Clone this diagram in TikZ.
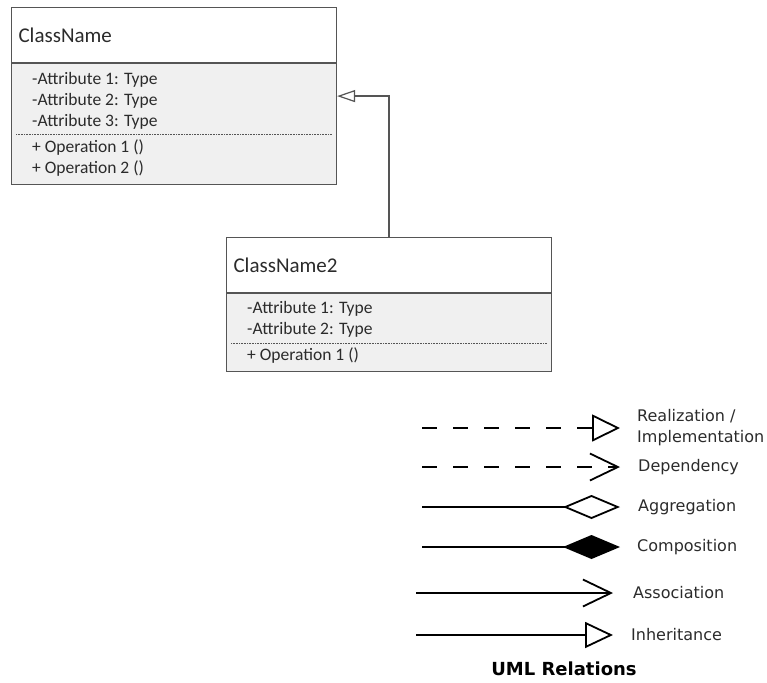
\documentclass[tikz,border=0pt]{standalone}
\usepackage{fontspec}
\setmainfont{Carlito}
\newfontfamily\legendfont{DejaVu Sans}
\usepackage{xcolor}
\usepackage{tikz}
\usetikzlibrary{positioning, arrows.meta, calc}
\definecolor{umlline}{HTML}{555555}
\definecolor{umlfill}{HTML}{F0F0F0}
\definecolor{umltext}{HTML}{2B2B2B}
\tikzset{
  chead/.style={draw=umlline, line width=1.1pt, fill=white, minimum width=325pt, minimum height=55pt, text width=311pt, inner xsep=7pt, align=left, font=\fontsize{21}{25}\selectfont, text=umltext},
  cbody/.style={draw=umlline, line width=1.1pt, fill=umlfill, minimum width=325pt},
  members/.style={inner sep=0pt, align=left, anchor=base west, font=\fontsize{17.5}{20.7}\selectfont, text=umltext},
  sepline/.style={densely dotted, umlline, line width=0.6pt},
  inh/.style={draw=umlline, line width=1.2pt, -{Triangle[length=18pt, width=12pt, fill=white]}},
  legtext/.style={font=\legendfont\fontsize{16}{21}\selectfont, align=left, text=umltext, inner sep=0pt},
  rel/.style={line width=1.8pt},
  realize/.style={rel, dash pattern=on 15pt off 16pt, -{Triangle[length=28pt, width=27pt, fill=white]}},
  depend/.style={rel, dash pattern=on 15pt off 16pt, -{Straight Barb[length=28pt, width=27pt]}},
  aggr/.style={rel, -{Diamond[length=57pt, width=24pt, fill=white]}},
  compo/.style={rel, -{Diamond[length=57pt, width=24pt, fill=black]}},
  assoc/.style={rel, -{Straight Barb[length=28pt, width=27pt]}},
  inherit/.style={rel, -{Triangle[length=28pt, width=26pt, fill=white]}},
}
\begin{document}
\begin{tikzpicture}[x=1pt, y=-1pt]
\useasboundingbox (0,0) rectangle (767,682);
% first class
\node[chead, anchor=north west] (c1h) at (11,7) {ClassName};
\node[cbody, minimum height=121pt, below=0pt of c1h] (c1b) {};
\node[members] (c1attr) at ([xshift=21pt, yshift=-63pt]c1b.north west) {-Attribute 1: Type\\-Attribute 2: Type\\-Attribute 3: Type};
\draw[sepline] ([xshift=5pt, yshift=-71pt]c1b.north west) -- ([xshift=-5pt, yshift=-71pt]c1b.north east);
\node[members] (c1ops) at ([xshift=21pt, yshift=-110pt]c1b.north west) {+ Operation 1 ()\\+ Operation 2 ()};
% second class
\node[chead, anchor=north west] (c2h) at (226,237) {ClassName2};
\node[cbody, minimum height=78pt, below=0pt of c2h] (c2b) {};
\node[members] (c2attr) at ([xshift=21pt, yshift=-41pt]c2b.north west) {-Attribute 1: Type\\-Attribute 2: Type};
\draw[sepline] ([xshift=5pt, yshift=-50pt]c2b.north west) -- ([xshift=-5pt, yshift=-50pt]c2b.north east);
\node[members] (c2ops) at ([xshift=21pt, yshift=-67pt]c2b.north west) {+ Operation 1 ()};
\draw[inh] (c2h.north) |- ([yshift=-33pt]c1b.north east);
% legend
\coordinate (real0) at (422,428);
\coordinate (real1) at (620,428);
\node[legtext, right=17pt of real1] (real) {Realization /\\Implementation};
\draw[realize] (real0) -- (real1);
\coordinate (dep0) at (422,467);
\coordinate (dep1) at (620,467);
\node[legtext, right=18pt of dep1] (dep) {Dependency};
\draw[depend] (dep0) -- (dep1);
\coordinate (agg0) at (422,507);
\coordinate (agg1) at (620,507);
\node[legtext, right=18pt of agg1] (agg) {Aggregation};
\draw[aggr] (agg0) -- (agg1);
\coordinate (comp0) at (422,547);
\coordinate (comp1) at (620,547);
\node[legtext, right=17pt of comp1] (comp) {Composition};
\draw[compo] (comp0) -- (comp1);
\coordinate (ass0) at (416,593);
\coordinate (ass1) at (613,593);
\node[legtext, right=20pt of ass1] (ass) {Association};
\draw[assoc] (ass0) -- (ass1);
\coordinate (inh0) at (416,635);
\coordinate (inh1) at (613,635);
\node[legtext, right=18pt of inh1] (inhl) {Inheritance};
\draw[inherit] (inh0) -- (inh1);
\node[font=\legendfont\bfseries\fontsize{18}{22}\selectfont, text=black] (title) at (564,669) {UML Relations};
\end{tikzpicture}
\end{document}
